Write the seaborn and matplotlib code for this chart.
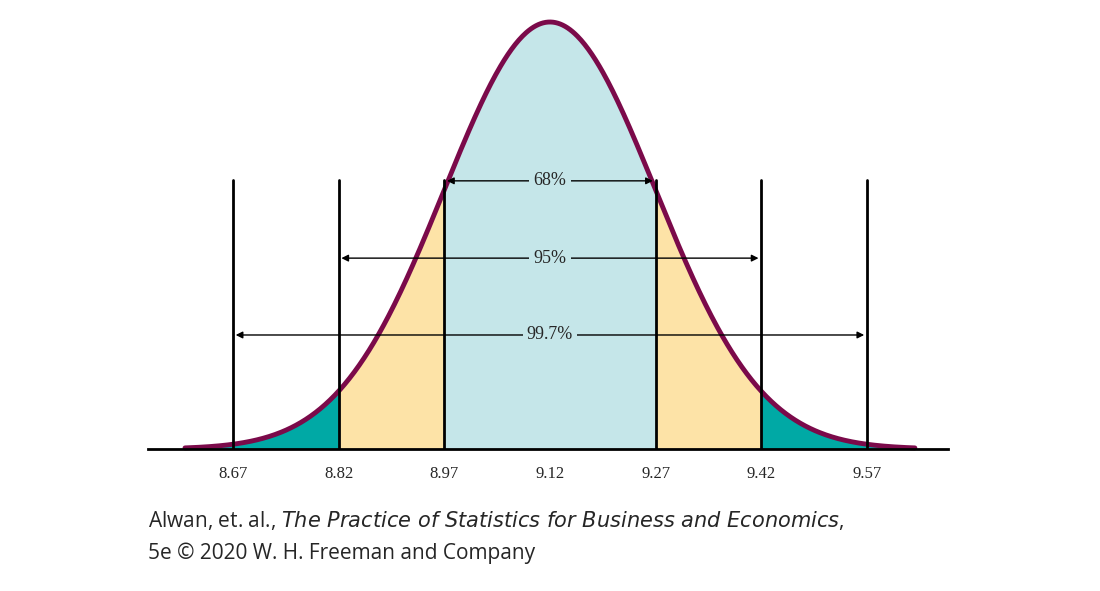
import matplotlib
matplotlib.use("Agg")
import matplotlib.pyplot as plt
import seaborn as sns
import numpy as np
import pandas as pd

mean = 9.12
sd = 0.15
tick_values = [8.67, 8.82, 8.97, 9.12, 9.27, 9.42, 9.57]
boundary_values = [8.67, 8.82, 8.97, 9.27, 9.42, 9.57]
range_labels = ["68%", "95%", "99.7%"]
range_sd = [1, 2, 3]
curve_start, curve_end = 8.602, 9.638

sns.set_theme(style="white")
plt.rcParams["font.family"] = ["Liberation Serif", "DejaVu Serif"]


def pdf(x):
    return np.exp(-0.5 * ((x - mean) / sd) ** 2) / (sd * np.sqrt(2 * np.pi))


peak = pdf(mean)
xs = np.linspace(curve_start, curve_end, 600)
df = pd.DataFrame({"x": xs, "y": pdf(xs)})

fig = plt.figure(figsize=(11, 5.91), dpi=100)
ax = fig.add_axes([148 / 1100, 1 - 449 / 591, 800 / 1100, 427 / 591])

teal = "#00A9A5"
tan = "#FDE3A7"
blue = "#C5E6E9"
for lo, hi, c in [(curve_start, mean - 2 * sd, teal), (mean - 2 * sd, mean - sd, tan),
                  (mean - sd, mean + sd, blue), (mean + sd, mean + 2 * sd, tan),
                  (mean + 2 * sd, curve_end, teal)]:
    m = (xs >= lo) & (xs <= hi)
    ax.fill_between(xs[m], 0, df["y"][m], color=c, lw=0)

sns.lineplot(data=df, x="x", y="y", ax=ax, color="#7B0A4A", lw=3.5, clip_on=False)

for b in boundary_values:
    ax.plot([b, b], [0, 0.63 * peak], color="black", lw=2)

arrow_y = [0.628, 0.447, 0.267]
for lab, k, fy in zip(range_labels, range_sd, arrow_y):
    y = fy * peak
    ax.annotate("", xy=(mean - k * sd, y), xytext=(mean, y),
                arrowprops=dict(arrowstyle="-|>", color="black", lw=1, mutation_scale=10))
    ax.annotate("", xy=(mean + k * sd, y), xytext=(mean, y),
                arrowprops=dict(arrowstyle="-|>", color="black", lw=1, mutation_scale=10))
    ax.text(mean, y, lab, ha="center", va="center", fontsize=13,
            bbox=dict(facecolor=blue, edgecolor="none", pad=3))

ax.set_xlim(8.5495, 9.685)
ax.set_ylim(0, peak)
ax.set_xticks(tick_values)
ax.set_xticklabels([f"{t:.2f}" for t in tick_values], fontsize=12)
ax.set_yticks([])
ax.set_xlabel("")
ax.set_ylabel("")
ax.tick_params(axis="x", length=0, pad=12)
for s in ["top", "left", "right"]:
    ax.spines[s].set_visible(False)
ax.spines["bottom"].set_color("black")
ax.spines["bottom"].set_linewidth(2)
ax.set_zorder(1)

fig.text(148 / 1100, 1 - 521 / 591,
         "Alwan, et. al., $\\mathit{The\\ Practice\\ of\\ Statistics\\ for\\ Business\\ and\\ Economics}$,",
         fontsize=15, family="Open Sans", va="center")
fig.text(148 / 1100, 1 - 553 / 591, "5e © 2020 W. H. Freeman and Company",
         fontsize=15, family="Open Sans", va="center")

fig.savefig("out.png", dpi=100)
